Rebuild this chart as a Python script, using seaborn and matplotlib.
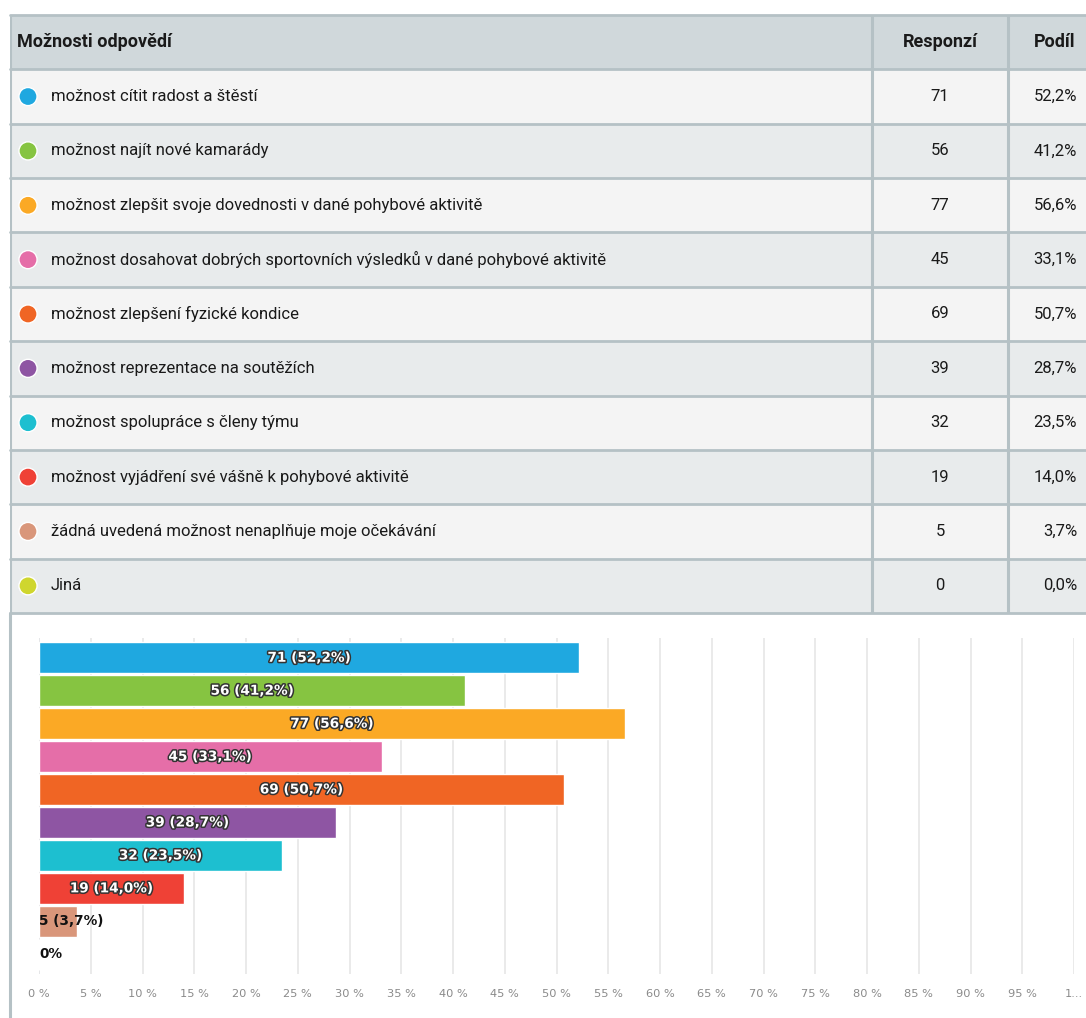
import numpy as np
import pandas as pd
import matplotlib
matplotlib.use("Agg")
import matplotlib.pyplot as plt
import matplotlib.patheffects as pe
from matplotlib.lines import Line2D
import seaborn as sns

# ============================================================
# DATA
# ============================================================
HEADERS = ["Možnosti odpovědí", "Responzí", "Podíl"]

OPTIONS = [
    "možnost cítit radost a štěstí",
    "možnost najít nové kamarády",
    "možnost zlepšit svoje dovednosti v dané pohybové aktivitě",
    "možnost dosahovat dobrých sportovních výsledků v dané pohybové aktivitě",
    "možnost zlepšení fyzické kondice",
    "možnost reprezentace na soutěžích",
    "možnost spolupráce s členy týmu",
    "možnost vyjádření své vášně k pohybové aktivitě",
    "žádná uvedená možnost nenaplňuje moje očekávání",
    "Jiná",
]
RESPONSES = [71, 56, 77, 45, 69, 39, 32, 19, 5, 0]
SHARES    = [52.2, 41.2, 56.6, 33.1, 50.7, 28.7, 23.5, 14.0, 3.7, 0.0]
COLORS    = ["#1fa8e0", "#86c441", "#fba925", "#e56ea8", "#f06524",
             "#8e55a3", "#1dbfd0", "#ef4136", "#d9967a", "#cfd62e"]

X_TICKS       = list(range(0, 101, 5))
X_TICK_LABELS = [f"{t} %" for t in X_TICKS[:-1]] + ["1..."]

# ============================================================
# STYLE
# ============================================================
sns.set_theme(style="white")
plt.rcParams["font.family"] = ["DejaVu Sans"]
TABLE_FONT  = ["Roboto", "DejaVu Sans"]
BORDER      = "#b5c1c5"
HEADER_BG   = "#d0d8db"
ROW_BG      = ["#f4f4f4", "#e8ebec"]
TEXT_COL    = "#1a1a1a"

W, H = 1086, 1018
fig = plt.figure(figsize=(W / 100, H / 100), dpi=100)
fig.patch.set_facecolor("white")

def fx(px):
    return px / W

def fy(px):
    return 1 - px / H

# ============================================================
# TABLE
# ============================================================
tab_top, tab_bot = 15, 613
tab_left = 10
tab = fig.add_axes([fx(tab_left), fy(tab_bot), 1 - fx(tab_left), (tab_bot - tab_top) / H])
tab.set_xlim(0, W - tab_left)
n_rows = len(OPTIONS) + 1
tab.set_ylim(n_rows, 0)
tab.axis("off")

col1 = 872 - tab_left
col2 = 1008 - tab_left

# backgrounds
tab.axhspan(0, 1, color=HEADER_BG, lw=0)
for i in range(len(OPTIONS)):
    tab.axhspan(i + 1, i + 2, color=ROW_BG[i % 2], lw=0)

# grid lines
for r in range(n_rows + 1):
    tab.axhline(r, color=BORDER, lw=2, zorder=3, clip_on=False)
for c in [0, col1, col2]:
    tab.axvline(c, color=BORDER, lw=2.2, zorder=3)

# header
hdr = dict(va="center", fontsize=13, fontweight="bold", family=TABLE_FONT, color=TEXT_COL)
tab.text(17 - tab_left, 0.5, HEADERS[0], ha="left", **hdr)
tab.text((col1 + col2) / 2, 0.5, HEADERS[1], ha="center", **hdr)
tab.text(1075 - tab_left, 0.5, HEADERS[2], ha="right", **hdr)

# rows
cell = dict(va="center", fontsize=12, family=TABLE_FONT, color=TEXT_COL)
ys = np.arange(len(OPTIONS)) + 1.5
tab.scatter([28 - tab_left] * len(OPTIONS), ys, s=170, c=COLORS,
            edgecolors="white", linewidths=1, zorder=4)
for y, opt, r, s in zip(ys, OPTIONS, RESPONSES, SHARES):
    tab.text(51 - tab_left, y, opt, ha="left", **cell)
    tab.text((col1 + col2) / 2, y, str(r), ha="center", **cell)
    tab.text(1077 - tab_left, y, f"{s:.1f}%".replace(".", ","), ha="right", **cell)

# left border continuing down past the table
fig.add_artist(Line2D([fx(tab_left), fx(tab_left)], [fy(tab_bot), 0],
                      color=BORDER, lw=2.2))

# ============================================================
# BAR CHART
# ============================================================
x0, x1 = 39, 1074
y0, y1 = 638, 974
ax = fig.add_axes([fx(x0), fy(y1), (x1 - x0) / W, (y1 - y0) / H])

df = pd.DataFrame({"option": OPTIONS, "share": SHARES, "resp": RESPONSES})
sns.barplot(data=df, x="share", y="option", hue="option", palette=COLORS,
            orient="h", width=0.93, legend=False, ax=ax, saturation=1)

ax.set_xlim(0, 100)
ax.set_ylim(len(OPTIONS) - 0.4, -0.6)
ax.set_xticks(X_TICKS)
ax.set_xticklabels(X_TICK_LABELS, color="#8a8a8a", fontsize=8.2)
ax.tick_params(axis="x", length=0, pad=11)
ax.set_yticks([])
ax.set_xlabel("")
ax.set_ylabel("")
ax.grid(axis="x", color="#e6e6e6", lw=1.2)
ax.set_axisbelow(True)
for sp in ax.spines.values():
    sp.set_visible(False)
ax.axvline(0, color="#dce3f0", lw=1.2, zorder=0.5)

outline = [pe.withStroke(linewidth=2.2, foreground="#333333")]
for i, (r, s) in enumerate(zip(RESPONSES, SHARES)):
    if r == 0:
        ax.text(0, i, "0%", ha="left", va="center", fontsize=9.8,
                fontweight="bold", color="#111111")
    elif s < 8:
        ax.text(0, i, f"{r} ({s:.1f}%)".replace(".", ","), ha="left", va="center",
                fontsize=9.8, fontweight="bold", color="#111111")
    else:
        ax.text(s / 2, i, f"{r} ({s:.1f}%)".replace(".", ","), ha="center",
                va="center", fontsize=9.8, fontweight="bold", color="white",
                path_effects=outline)

fig.savefig("out.png", dpi=100, facecolor="white")
